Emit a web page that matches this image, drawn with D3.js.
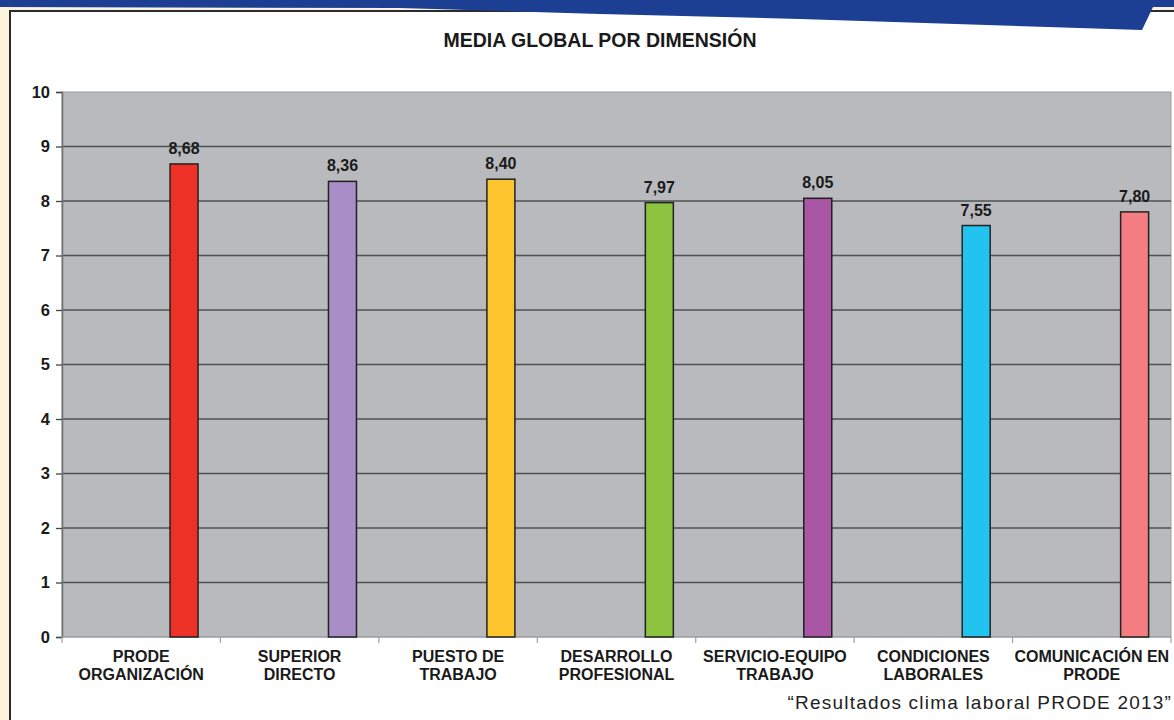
<!DOCTYPE html>
<html>
<head>
<meta charset="utf-8">
<script src="https://cdn.jsdelivr.net/npm/d3@7/dist/d3.min.js"></script>
<style>
  html, body { margin: 0; padding: 0; background: #fff; }
  svg { display: block; font-family: "Liberation Sans", Arial, sans-serif; }
</style>
</head>
<body>
<svg id="chart" width="1174" height="720"></svg>
<script>
// Media global por dimensión (clima laboral PRODE 2013)
const categories = [
  ['PRODE', 'ORGANIZACIÓN'],
  ['SUPERIOR', 'DIRECTO'],
  ['PUESTO DE', 'TRABAJO'],
  ['DESARROLLO', 'PROFESIONAL'],
  ['SERVICIO-EQUIPO', 'TRABAJO'],
  ['CONDICIONES', 'LABORALES'],
  ['COMUNICACIÓN EN', 'PRODE']
];
const values = [8.68, 8.36, 8.40, 7.97, 8.05, 7.55, 7.80];
const barColors = ['#ee3126', '#a98dc6', '#fec52f', '#8cc43f', '#a956a4', '#22c4ef', '#f37d80'];
const yTicks = [0, 1, 2, 3, 4, 5, 6, 7, 8, 9, 10];

const svg = d3.select('#chart');
const W = 1174, H = 720;
const plot = { left: 62, right: 1171, top: 92, bottom: 637 };

// page decoration: cream strip, frame lines, blue banner wedge
svg.append('rect').attr('x', 0).attr('y', 0).attr('width', 10).attr('height', H).attr('fill', '#fdf3dc');
svg.append('rect').attr('x', 10).attr('y', 0).attr('width', W - 10).attr('height', 12).attr('fill', '#f7f1e3');
svg.append('rect').attr('x', 11).attr('y', 12).attr('width', W - 11).attr('height', H - 12).attr('fill', '#fff');
svg.append('line').attr('x1', 10).attr('x2', W).attr('y1', 11).attr('y2', 11)
  .attr('stroke', '#2b2b2b').attr('stroke-width', 2);
svg.append('line').attr('x1', 10).attr('x2', 10).attr('y1', 10).attr('y2', H)
  .attr('stroke', '#2b2b2b').attr('stroke-width', 2);
svg.append('path')
  .attr('d', 'M0,0H1174V7H1153L1142,30L800,19L600,14L400,8L0,7Z')
  .attr('fill', '#1c3f94');

// title
svg.append('text')
  .attr('x', 600).attr('y', 47)
  .attr('text-anchor', 'middle')
  .attr('font-size', 19.5).attr('font-weight', 'bold').attr('fill', '#1a1a1a')
  .text('MEDIA GLOBAL POR DIMENSIÓN');

const x = d3.scaleBand()
  .domain(d3.range(categories.length))
  .range([plot.left, plot.right])
  .padding(0);
const y = d3.scaleLinear().domain([0, 10]).range([plot.bottom, plot.top]);

// plot area
svg.append('rect')
  .attr('x', plot.left).attr('y', plot.top)
  .attr('width', plot.right - plot.left).attr('height', plot.bottom - plot.top)
  .attr('fill', '#b8babd').attr('stroke', '#9a9c9f').attr('stroke-width', 1);

// gridlines
svg.append('g')
  .selectAll('line')
  .data(yTicks.filter((t) => t > 0 && t < 10))
  .join('line')
  .attr('x1', plot.left).attr('x2', plot.right)
  .attr('y1', (d) => y(d)).attr('y2', (d) => y(d))
  .attr('stroke', '#4f5052').attr('stroke-width', 1.3);

// y axis
const yAxis = svg.append('g')
  .attr('transform', `translate(${plot.left},0)`)
  .call(d3.axisLeft(y).tickValues(yTicks).tickSize(6).tickPadding(6).tickFormat(d3.format('d')));
yAxis.select('.domain').attr('stroke', '#707274').attr('stroke-width', 1.6);
yAxis.selectAll('.tick line').attr('stroke', '#444').attr('stroke-width', 1.3);
yAxis.selectAll('.tick text')
  .attr('font-size', 16.5).attr('font-weight', 'bold').attr('fill', '#1a1a1a')
  .attr('font-family', '"Liberation Sans", Arial, sans-serif');

// x axis: ticks between categories
const xAxis = svg.append('g')
  .attr('transform', `translate(0,${plot.bottom})`);
xAxis.append('line')
  .attr('x1', plot.left).attr('x2', plot.right).attr('y1', 0).attr('y2', 0)
  .attr('stroke', '#9a9c9f').attr('stroke-width', 1.2);
xAxis.selectAll('line.tk')
  .data(d3.range(categories.length + 1))
  .join('line')
  .attr('class', 'tk')
  .attr('x1', (i) => plot.left + i * x.bandwidth())
  .attr('x2', (i) => plot.left + i * x.bandwidth())
  .attr('y1', 0).attr('y2', 6)
  .attr('stroke', '#a0a2a4').attr('stroke-width', 1.2);

const catText = svg.append('g')
  .selectAll('text')
  .data(categories)
  .join('text')
  .attr('x', (d, i) => x(i) + x.bandwidth() / 2)
  .attr('y', 662)
  .attr('text-anchor', 'middle')
  .attr('font-size', 16).attr('font-weight', 'bold').attr('fill', '#1a1a1a');
catText.selectAll('tspan')
  .data((d) => d)
  .join('tspan')
  .attr('x', function () { return d3.select(this.parentNode).attr('x'); })
  .attr('dy', (d, j) => (j === 0 ? 0 : 18))
  .text((d) => d);

// bars sit in the right part of each band (as in the original spreadsheet chart)
const barOffset = 0.682 * x.bandwidth();
const barWidth = 28;
svg.append('g')
  .selectAll('rect')
  .data(values)
  .join('rect')
  .attr('x', (d, i) => x(i) + barOffset)
  .attr('y', (d) => y(d))
  .attr('width', barWidth)
  .attr('height', (d) => y(0) - y(d))
  .attr('fill', (d, i) => barColors[i])
  .attr('stroke', '#222').attr('stroke-width', 1.5);

const esFormat = d3.formatLocale({ decimal: ',', thousands: '.', grouping: [3], currency: ['', '€'] }).format('.2f');
svg.append('g')
  .selectAll('text')
  .data(values)
  .join('text')
  .attr('x', (d, i) => x(i) + barOffset + barWidth / 2)
  .attr('y', (d) => y(d) - 10)
  .attr('text-anchor', 'middle')
  .attr('font-size', 16).attr('font-weight', 'bold').attr('fill', '#1a1a1a')
  .text((d) => esFormat(d));

// source caption
svg.append('text')
  .attr('x', 1172).attr('y', 709)
  .attr('text-anchor', 'end')
  .attr('font-size', 19).attr('letter-spacing', 1.2).attr('fill', '#222')
  .text('“Resultados clima laboral PRODE 2013”');
</script>
</body>
</html>
